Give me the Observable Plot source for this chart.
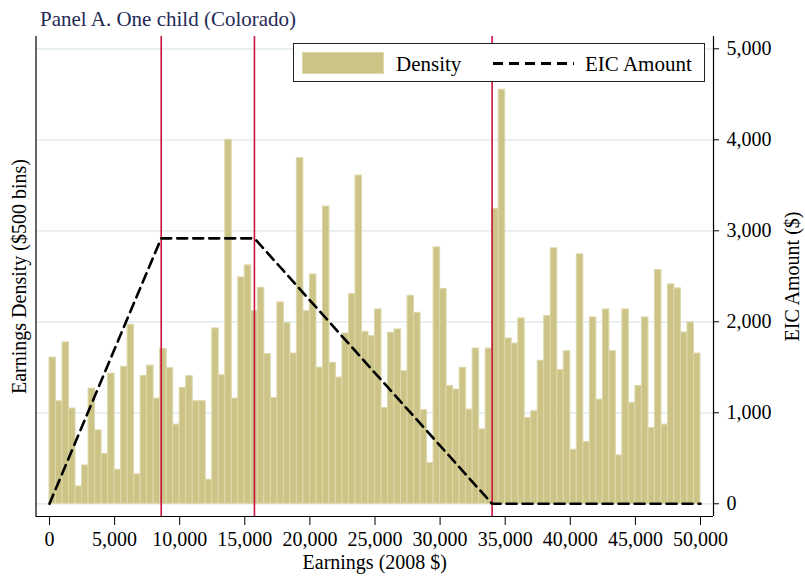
<!DOCTYPE html>
<html>
<head>
<meta charset="utf-8">
<script src="https://cdn.jsdelivr.net/npm/d3@7"></script>
<script src="https://cdn.jsdelivr.net/npm/@observablehq/plot@0.6"></script>
<style>
  body { margin: 0; background: #fff; }
  #wrap { position: relative; width: 805px; height: 576px; font-family: "Liberation Serif", "Times New Roman", serif; color: #000; }
  #title { position: absolute; left: 40px; top: 9px; font-size: 21px; line-height: 21px; color: #1f2a55; white-space: nowrap; }
  #chart { position: absolute; left: 0; top: 30px; }
  #legend { position: absolute; left: 293px; top: 43px; width: 412px; height: 39px; border: 1px solid #222; background: #fff; box-sizing: border-box; }
  .sw { position: absolute; left: 8px; top: 8px; width: 82px; height: 22px; background: #ccc487; border: 1px solid #ddd8aa; box-sizing: border-box; }
  .lt { position: absolute; font-size: 21px; line-height: 21px; white-space: nowrap; }
  .dash { position: absolute; left: 199px; top: 18px; width: 81px; height: 2.6px; background: repeating-linear-gradient(to right, #000 0 10px, transparent 10px 16px); }
</style>
</head>
<body>
<div id="wrap">
  <div id="title">Panel A. One child (Colorado)</div>
  <div id="chart"></div>
  <div id="legend">
    <div class="sw"></div>
    <div class="lt" style="left:102px; top:10px;">Density</div>
    <div class="dash"></div>
    <div class="lt" style="left:291px; top:10px;">EIC Amount</div>
  </div>
</div>
<script>
// ---- data ----
const binWidth = 500;
// bar heights, read on the EIC-amount axis scale (left density axis is unlabeled)
const density = [
  1607,1127,1773,1046,191,422,1266,807,550,1431,374,1505,1967,323,1406,1519,1156,1703,1490,870,1273,1402,1127,1127,264,
  1927,1413,4000,1156,2488,2620,2117,2374,1644,1163,2213,1989,1651,3798,2117,2521,1497,3266,1549,1387,1872,2305,3607,1890,1842,
  2136,1053,1879,1916,1457,2286,2099,1028,448,2818,2360,1295,1255,1494,1035,1706,818,1706,3240,4550,1817,1761,2037,943,1017,
  1571,2062,2807,1468,1677,594,2741,679,2048,1145,2136,1677,532,2136,1108,1295,2048,833,2569,870,2411,2367,1883,1993,1651
];
const eicEarnings = [0, 8580, 15740, 33995, 50000];
const eicAmount   = [0, 2917, 2917, 0, 0];
const thresholds  = [8580, 15740, 33995];
const xTicks   = [0,5000,10000,15000,20000,25000,30000,35000,40000,45000,50000];
const eicTicks = [0,1000,2000,3000,4000,5000];

const xDomain = [-1037, 50998];
const yDomain = [-139.6, 5135];

const bars = density.map((v, i) => ({lo: i * binWidth, hi: (i + 1) * binWidth, density: v}));
const eic = eicEarnings.map((e, i) => ({earn: e, amt: eicAmount[i]}));
const fmt = d3.format(",");

const chart = Plot.plot({
  width: 805,
  height: 546,
  marginTop: 6,
  marginBottom: 60,
  marginLeft: 35.5,
  marginRight: 92,
  x: {domain: xDomain},
  y: {domain: yDomain},
  style: {fontFamily: "'Liberation Serif', 'Times New Roman', serif", fontSize: "20px", color: "#000", background: "#fff", overflow: "visible"},
  marks: [
    Plot.gridY(eicTicks, {stroke: "#dde7ed", strokeOpacity: 1, strokeWidth: 1.2}),
    Plot.rectY(bars, {x1: "lo", x2: "hi", y: "density", fill: "#ccc487", stroke: "#ddd8aa", strokeWidth: 1}),
    Plot.ruleX(thresholds, {stroke: "#c8123c", strokeWidth: 1.6}),
    Plot.line(eic, {x: "earn", y: "amt", stroke: "#000", strokeWidth: 2.6, strokeDasharray: "10,6"}),
    Plot.ruleX([xDomain[0], xDomain[1]], {stroke: "#000", strokeWidth: 1.2}),
    Plot.ruleY([yDomain[0]], {stroke: "#000", strokeWidth: 1.2}),
    Plot.axisX({ticks: xTicks, tickFormat: fmt, tickSize: 9, tickPadding: 6, label: "Earnings (2008 $)", labelAnchor: "center", labelOffset: 52, labelArrow: "none"}),
    Plot.axisY({anchor: "left", ticks: [], label: "Earnings Density ($500 bins)", labelAnchor: "center", labelOffset: 24, labelArrow: "none"}),
    Plot.axisY({anchor: "right", ticks: eicTicks, tickFormat: fmt, tickSize: 5, tickPadding: 8, label: "EIC Amount ($)", labelAnchor: "center", labelOffset: 85, labelArrow: "none"})
  ]
});
document.getElementById("chart").appendChild(chart);
</script>
</body>
</html>
